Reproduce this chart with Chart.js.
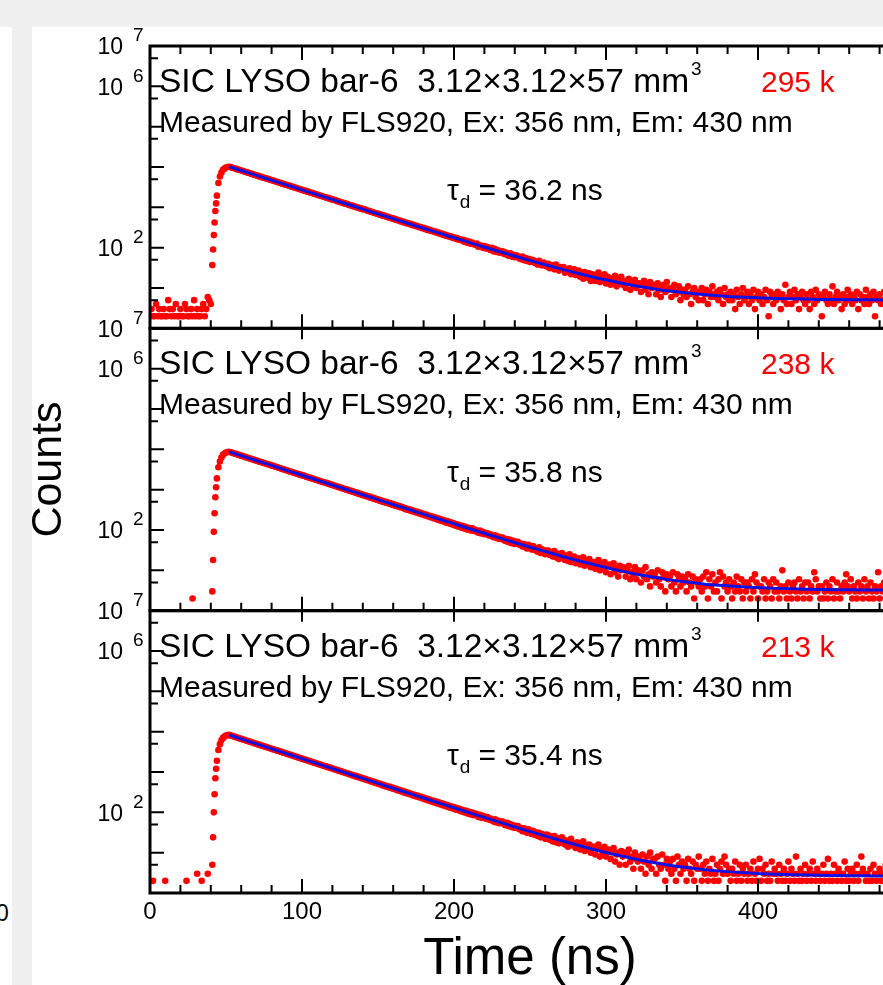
<!DOCTYPE html>
<html>
<head>
<meta charset="utf-8">
<title>SIC LYSO bar-6 decay time</title>
<script src="https://cdn.jsdelivr.net/npm/chart.js@4.4.1/dist/chart.umd.min.js"></script>
<style>
  html, body { margin: 0; padding: 0; overflow: hidden; background: #fff; }
  body { width: 883px; height: 985px; position: relative; }
  .band-top { position: absolute; left: 0; top: 0; width: 883px; height: 27px; background: #f0f0f0; }
  .band-left { position: absolute; left: 12px; top: 27px; width: 20px; height: 958px; background: #f0f0f0; }
  .stray { position: absolute; left: -4px; top: 902px; font: 23px 'Liberation Sans', Arial, sans-serif; line-height: 22px; color: #000; }
  #wrap { position: absolute; left: 0; top: 0; width: 940px; height: 985px; }
</style>
</head>
<body>
<div class="band-top"></div>
<div class="band-left"></div>
<div class="stray">0</div>
<div id="wrap"><canvas id="decay" width="940" height="985"></canvas></div>
<script>
// histogram channel width (ns), counts start at t = 0
const binNs = 1;
const xTickStep = 100;
const yLabelExponents = [7, 6, 2];

const sampleLabel = "SIC LYSO bar-6  3.12\u00d73.12\u00d757 mm";
const setupLabel = "Measured by FLS920, Ex: 356 nm, Em: 430 nm";
const totalLabels = ["295 k", "238 k", "213 k"];
const decayTimes = ["36.2", "35.8", "35.4"];

// panel 1 counts, t = 0 .. 485 ns
const counts1 = [
  2, 3, 2, 2, 4, 2, 3, 2, 2, 3,
  2, 2, 5, 3, 2, 3, 2, 4, 2, 2,
  3, 2, 2, 4, 3, 2, 2, 3, 2, 5,
  2, 3, 2, 2, 3, 4, 2, 3, 6, 5,
  4, 37, 205, 810, 1950, 4000, 5800, 7250, 8500, 9100,
  9650, 10000,
  10180, 9950, 9620, 9410, 9170, 8850, 8660, 8390, 8210, 7930,
  7760, 7500, 7350, 7100, 6950, 6720, 6580, 6350, 6230, 6010,
  5850, 5740, 5530, 5430, 5240, 5140, 4950, 4870, 4690, 4600,
  4480, 4310, 4240, 4080, 4010, 3860, 3800, 3650, 3590, 3460,
  3400, 3270, 3220, 3090, 3050, 2930, 2890, 2770, 2730, 2620,
  2590, 2480, 2450, 2340, 2320, 2220, 2190, 2100, 2080, 1990,
  1940, 1915, 1830, 1810, 1730, 1715, 1640, 1625, 1550, 1535,
  1495, 1425, 1415, 1350, 1340, 1275, 1270, 1205, 1200, 1145,
  1110, 1105, 1050, 1050, 995, 990, 940, 940, 890, 890,
  870, 820, 820, 775, 780, 735, 735, 695, 700, 655,
  660, 622, 625, 590, 592, 556, 560, 528, 532, 498,
  502, 472, 476, 447, 451, 422, 427, 400, 405, 379,
  383, 358, 363, 340, 345, 320, 325, 303, 309, 288,
  293, 272, 278, 258, 263, 244, 250, 231, 236, 219,
  225, 207, 212, 196, 201, 186, 191, 175, 181, 166,
  174, 158, 161, 151, 157, 139, 148, 131, 141, 125,
  134, 121, 119, 127, 106, 115, 112, 99, 109, 96,
  104, 93, 88, 99, 81, 92, 78, 86, 75, 80,
  81, 70, 76, 66, 63, 72, 60, 67, 58, 65,
  61, 54, 52, 60, 49, 55, 47, 53, 44, 50,
  49, 42, 45, 38, 47, 40, 36, 43, 39, 34,
  40, 31, 37, 32, 29, 38, 34, 27, 33, 30,
  33, 24, 29, 26, 31, 22, 27, 29, 21, 26,
  27, 19, 24, 17, 25, 21, 18, 23, 15, 22,
  21, 15, 20, 24, 14, 18, 16, 22, 13, 19,
  18, 12, 17, 14, 20, 11, 16, 13, 19, 12,
  15, 10, 14, 17, 9, 13, 11, 16, 10, 12,
  13, 8, 12, 15, 9, 11, 7, 14, 10, 12,
  11, 7, 13, 9, 6, 10, 12, 8, 14, 9,
  10, 6, 9, 12, 7, 8, 11, 5, 9, 7,
  9, 6, 11, 7, 4, 8, 10, 6, 8, 5,
  8, 10, 5, 7, 9, 4, 8, 6, 11, 7,
  6, 8, 5, 9, 7, 4, 10, 6, 7, 5,
  8, 5, 7, 3, 9, 6, 4, 7, 10, 5,
  6, 8, 4, 7, 5, 9, 3, 6, 8, 5,
  7, 4, 6, 9, 5, 2, 8, 6, 4, 7,
  5, 8, 6, 3, 7, 5, 12, 4, 6, 8,
  4, 6, 9, 5, 7, 3, 6, 8, 5, 4,
  7, 5, 3, 8, 6, 4, 9, 5, 7, 6,
  2, 6, 8, 5, 4, 7, 5, 11, 4, 6,
  8, 5, 6, 3, 7, 4, 6, 9, 5, 7,
  4, 6, 5, 8, 3, 7, 5, 6, 4, 9,
  6, 4, 7, 5, 8, 2, 6, 5, 7, 4,
  5, 8, 4, 6
];

// panel 2 counts, t = 0 .. 485 ns (null = below the axis)
const counts2 = [
  null, null, null, null, null, null, null, null, null, null,
  null, null, null, null, null, null, null, null, null, null,
  null, null, null, null, null, null, null, null, 2, null,
  null, null, null, null, null, null, null, null, null, null,
  null, 3, 90, 650, 1900, 3600, 5000, 6300, 7300, 7900,
  8300, 8550,
  8690, 8480, 8200, 8020, 7760, 7590, 7340, 7170, 6940, 6780,
  6600, 6380, 6240, 6030, 5900, 5700, 5580, 5390, 5280, 5100,
  4960, 4860, 4690, 4590, 4430, 4340, 4190, 4110, 3960, 3880,
  3780, 3640, 3575, 3445, 3380, 3255, 3200, 3080, 3025, 2910,
  2830, 2785, 2675, 2635, 2530, 2490, 2390, 2360, 2260, 2230,
  2170, 2075, 2055, 1960, 1945, 1855, 1840, 1750, 1740, 1655,
  1645, 1565, 1555, 1480, 1475, 1400, 1395, 1320, 1320, 1250,
  1245, 1180, 1180, 1115, 1115, 1055, 1058, 995, 1000, 940,
  945, 890, 895, 840, 848, 795, 802, 750, 760, 708,
  718, 670, 680, 633, 645, 598, 610, 565, 577, 534,
  546, 505, 517, 477, 490, 451, 463, 426, 438, 403,
  415, 381, 392, 360, 372, 339, 352, 320, 333, 303,
  315, 288, 297, 271, 283, 256, 267, 242, 253, 229,
  239, 216, 226, 204, 214, 192, 203, 181, 192, 171,
  182, 162, 172, 152, 164, 144, 155, 136, 146, 128,
  139, 121, 131, 114, 125, 108, 119, 102, 112, 97,
  110, 95, 101, 91, 86, 97, 82, 90, 79, 84,
  83, 73, 78, 70, 66, 74, 63, 69, 60, 65,
  65, 56, 53, 60, 50, 57, 47, 54, 45, 51,
  51, 43, 46, 39, 45, 38, 35, 43, 40, 33,
  40, 32, 35, 29, 37, 27, 33, 30, 25, 31,
  31, 24, 28, 22, 30, 21, 26, 19, 25, 27,
  24, 18, 23, 17, 25, 16, 20, 22, 15, 19,
  20, 14, 18, 21, 13, 17, 15, 19, 12, 16,
  16, 11, 15, 18, 10, 14, 12, 16, 9, 13,
  14, 8, 12, 15, 9, 11, 7, 13, 10, 12,
  11, 7, 10, 13, 6, 9, 8, 12, 6, 10,
  9, 5, 10, 7, 12, 6, 8, 4, 9, 7,
  8, 5, 10, 6, 4, 9, 7, 3, 8, 6,
  7, 4, 9, 5, 3, 8, 6, 4, 7, 5,
  6, 3, 8, 5, 4, 7, 2, 6, 5, 4,
  6, 3, 7, 4, 9, 2, 6, 4, 8, 3,
  5, 3, 6, 9, 2, 7, 4, 5, 3, 6,
  4, 2, 5, 3, 7, 4, 3, 6, 2, 5,
  3, 5, 4, 2, 6, 3, 8, 5, 2, 4,
  4, 3, 6, 2, 3, 5, 4, 2, 6, 3,
  5, 3, 2, 4, 10, 3, 4, 2, 5, 3,
  2, 4, 5, 3, 2, 6, 3, 4, 2, 5,
  3, 5, 2, 4, 3, 9, 6, 3, 4, 2,
  4, 2, 3, 5, 2, 4, 3, 6, 2, 3,
  5, 3, 2, 4, 3, 5, 8, 4, 3, 6,
  2, 4, 3, 2, 5, 3, 4, 2, 6, 3,
  4, 2, 5, 3, 2, 4, 3, 9, 2, 4,
  3, 5, 2, 4
];

// panel 3 counts, t = 0 .. 485 ns (null = below the axis)
const counts3 = [
  null, null, 2, null, null, null, null, null, null, null,
  2, null, null, null, null, null, null, null, null, null,
  null, null, null, null, 2, null, null, null, null, null,
  null, 3, null, null, 2, null, null, null, 3, null,
  null, 5, 100, 700, 1900, 3500, 4900, 6100, 7000, 7600,
  8000, 8200,
  8310, 8050, 7870, 7600, 7430, 7190, 7020, 6790, 6640, 6420,
  6280, 6060, 5930, 5730, 5610, 5410, 5300, 5110, 5010, 4830,
  4700, 4605, 4440, 4350, 4195, 4115, 3965, 3890, 3745, 3675,
  3575, 3440, 3380, 3250, 3195, 3070, 3020, 2900, 2855, 2740,
  2700, 2590, 2550, 2445, 2410, 2310, 2280, 2180, 2155, 2060,
  2040, 1950, 1925, 1840, 1822, 1738, 1722, 1642, 1628, 1551,
  1540, 1465, 1455, 1385, 1378, 1307, 1301, 1235, 1230, 1167,
  1164, 1100, 1102, 1040, 1042, 982, 985, 928, 932, 877,
  881, 827, 833, 781, 788, 738, 745, 697, 705, 659,
  667, 622, 631, 587, 597, 554, 564, 523, 534, 494,
  505, 466, 477, 440, 451, 416, 427, 393, 403, 371,
  383, 350, 362, 331, 342, 312, 324, 294, 306, 279,
  290, 263, 274, 248, 260, 235, 245, 222, 232, 209,
  220, 197, 208, 186, 197, 175, 187, 165, 177, 156,
  167, 148, 158, 139, 150, 131, 142, 124, 135, 117,
  128, 112, 120, 105, 114, 99, 109, 93, 103, 88,
  99, 85, 93, 89, 77, 87, 73, 82, 79, 69,
  76, 66, 70, 63, 59, 67, 56, 62, 54, 59,
  59, 50, 48, 55, 45, 51, 43, 48, 41, 46,
  46, 38, 41, 34, 40, 33, 31, 38, 35, 29,
  35, 28, 32, 26, 31, 24, 29, 27, 22, 28,
  27, 21, 25, 19, 26, 18, 23, 17, 22, 24,
  21, 16, 20, 14, 19, 22, 15, 17, 13, 18,
  17, 12, 16, 19, 11, 15, 13, 16, 10, 14,
  14, 9, 13, 16, 8, 12, 10, 14, 8, 11,
  12, 7, 11, 13, 6, 9, 10, 5, 11, 8,
  10, 5, 9, 12, 6, 8, 4, 10, 7, 6,
  8, 4, 9, 6, 3, 8, 5, 10, 4, 7,
  7, 3, 8, 5, 4, 9, 5, 2, 7, 4,
  6, 3, 7, 4, 2, 8, 5, 3, 6, 4,
  5, 2, 7, 4, 3, 6, 2, 5, 4, 8,
  4, 2, 5, 3, 6, 2, 4, 3, 7, 2,
  3, 5, 2, 4, 6, 3, 8, 5, 3, 4,
  2, 4, 3, 6, 2, 3, 5, 2, 4, 3,
  5, 2, 3, 4, 2, 6, 3, 2, 4, 7,
  2, 4, 3, 5, 2, 3, 2, 6, 3, 4,
  3, 2, 5, 3, 2, 4, 2, 3, 6, 2,
  4, 3, 2, 8, 3, 2, 4, 2, 3, 5,
  2, 3, 4, 2, 6, 3, 2, 4, 3, 2,
  3, 5, 2, 3, 7, 2, 3, 2, 5, 3,
  2, 4, 3, 2, 3, 6, 2, 4, 2, 3,
  4, 2, 3, 5, 2, 3, 8, 4, 3, 2,
  3, 2, 4, 2, 5, 3, 2, 3, 4, 2,
  3, 2, 5, 2
];

// extra channels on the rising edge (between whole ns)
const edgeTimes = [41.5, 42.5, 43.5];
const edgeCounts1 = [90, 420, 1250];
const edgeCounts2 = [18, 260, 1150];
const edgeCounts3 = [24, 280, 1200];

// fitted decay curves
const fitTimes = [52, 62, 72, 82, 92, 102, 112, 122, 132, 142, 152, 162, 172, 182, 192, 202,
  212, 222, 232, 242, 252, 262, 272, 282, 292, 302, 312, 322, 332, 342, 352, 362, 372, 382,
  392, 402, 412, 422, 432, 442, 452, 462, 472, 482, 492, 500];
const fit1 = [10205, 7744, 5876, 4460, 3385, 2569, 1951, 1481, 1125, 855, 650, 494, 376, 287,
  219, 167, 128, 98.4, 75.9, 58.8, 45.8, 36.0, 28.5, 22.8, 18.5, 15.3, 12.8, 10.9, 9.5, 8.4,
  7.6, 7.0, 6.5, 6.1, 5.9, 5.65, 5.5, 5.4, 5.3, 5.2, 5.16, 5.12, 5.09, 5.07, 5.05, 5.04];
const fit2 = [8703, 6583, 4979, 3766, 2849, 2156, 1631, 1234, 934, 707, 536, 406, 308, 233,
  177, 135, 102.9, 78.6, 60.2, 46.3, 35.8, 27.9, 21.8, 17.3, 13.9, 11.3, 9.3, 7.8, 6.7, 5.8,
  5.2, 4.7, 4.3, 4.1, 3.85, 3.7, 3.57, 3.48, 3.41, 3.36, 3.32, 3.29, 3.27, 3.25, 3.24, 3.23];
const fit3 = [8303, 6260, 4720, 3559, 2684, 2024, 1527, 1152, 869, 656, 495, 374, 283, 214,
  162, 123, 93.0, 70.8, 54.0, 41.3, 31.8, 24.6, 19.2, 15.1, 12.0, 9.7, 8.0, 6.6, 5.65, 4.9,
  4.33, 3.9, 3.58, 3.34, 3.16, 3.02, 2.92, 2.84, 2.78, 2.74, 2.70, 2.68, 2.66, 2.65, 2.64, 2.63];

const FONT = "'Liberation Sans', Arial, Helvetica, sans-serif";
const panelIds = ["y1", "y2", "y3"];
const panelCounts = [counts1, counts2, counts3];
const panelEdges = [edgeCounts1, edgeCounts2, edgeCounts3];
const panelFits = [fit1, fit2, fit3];

function histPoints(counts, edgeCounts) {
  const pts = counts.map((c, i) => ({ x: i * binNs, y: c }));
  edgeTimes.forEach((t, i) => pts.push({ x: t, y: edgeCounts[i] }));
  return pts;
}

function fitPoints(vals) {
  return fitTimes.map((t, i) => ({ x: t, y: vals[i] }));
}

const datasets = [];
panelIds.forEach((id, p) => {
  datasets.push({
    type: "line",
    label: "fit " + (p + 1),
    data: fitPoints(panelFits[p]),
    yAxisID: id,
    borderColor: "#1010e0",
    borderWidth: 3,
    pointRadius: 0,
    fill: false,
    cubicInterpolationMode: "monotone",
    order: 0
  });
  datasets.push({
    type: "scatter",
    label: "data " + (p + 1),
    data: histPoints(panelCounts[p], panelEdges[p]),
    yAxisID: id,
    backgroundColor: "#ff0000",
    borderWidth: 0,
    pointRadius: 3.3,
    order: 1
  });
});

function panelScale(weight, title) {
  return {
    type: "logarithmic",
    position: "left",
    stack: "panels",
    stackWeight: 1,
    weight: weight,
    min: 1,
    max: 1e7,
    ticks: { display: false },
    grid: { display: false, drawTicks: false },
    border: { display: false },
    title: title ? {
      display: true,
      text: title,
      color: "#000",
      font: { family: FONT, size: 43, lineHeight: 1 },
      padding: { top: 28, bottom: 0 }
    } : { display: false },
    afterFit(scale) { scale.width = 150; }
  };
}

// frame, inward ticks, 10^n labels and the panel notes
const panelDecor = {
  id: "panelDecor",
  afterDatasetsDraw(chart) {
    const { ctx } = chart;
    const xs = chart.scales.x;
    const left = xs.left, right = xs.right;
    ctx.save();
    ctx.strokeStyle = "#000";
    ctx.fillStyle = "#000";
    panelIds.forEach((id, p) => {
      const ys = chart.scales[id];
      const top = ys.top, bottom = ys.bottom;

      ctx.lineWidth = 2;
      ctx.beginPath();
      for (let e = 0; e <= 7; e++) {
        [1, 5].forEach((m) => {
          const v = m * Math.pow(10, e);
          if (v > ys.max) return;
          const y = ys.getPixelForValue(v);
          const len = m === 1 ? 14 : 8;
          ctx.moveTo(left, y); ctx.lineTo(left + len, y);
          ctx.moveTo(right, y); ctx.lineTo(right - len, y);
        });
      }
      for (let t = xs.min; t <= xs.max; t += 20) {
        const x = xs.getPixelForValue(t);
        const major = t % xTickStep === 0;
        ctx.moveTo(x, bottom); ctx.lineTo(x, bottom - (major ? 14 : 8));
        if (p === 0) {
          ctx.moveTo(x, top); ctx.lineTo(x, top + (major ? 14 : 8));
        } else if (major) {
          ctx.moveTo(x, top); ctx.lineTo(x, top + 11);
        }
      }
      ctx.stroke();

      ctx.lineWidth = 3;
      ctx.strokeRect(left, top, right - left, bottom - top);

      // y labels as 10 + raised exponent
      yLabelExponents.forEach((e) => {
        const y = ys.getPixelForValue(Math.pow(10, e)) + 2;
        ctx.textBaseline = "middle";
        ctx.font = "23px " + FONT;
        ctx.textAlign = "right";
        ctx.fillText("10", left - 27, y);
        ctx.font = "19px " + FONT;
        ctx.textAlign = "left";
        ctx.fillText(String(e), left - 17, y - 12);
      });

      ctx.textAlign = "left";
      ctx.textBaseline = "alphabetic";
      ctx.font = "33.5px " + FONT;
      ctx.fillText(sampleLabel, left + 9, top + 46);
      const w = ctx.measureText(sampleLabel).width;
      ctx.font = "19px " + FONT;
      ctx.fillText("3", left + 9 + w + 2, top + 29);

      ctx.fillStyle = "#ff0000";
      ctx.font = "30px " + FONT;
      ctx.fillText(totalLabels[p], left + 611, top + 46);
      ctx.fillStyle = "#000";

      ctx.font = "30px " + FONT;
      ctx.fillText(setupLabel, left + 9, top + 86);

      const tx = left + 297, ty = top + 154;
      ctx.font = "30px " + FONT;
      ctx.fillText("\u03c4", tx, ty);
      let cx = tx + ctx.measureText("\u03c4").width + 1;
      ctx.font = "19px " + FONT;
      ctx.fillText("d", cx, ty + 8);
      cx += ctx.measureText("d").width + 8;
      ctx.font = "30px " + FONT;
      ctx.fillText("= " + decayTimes[p] + " ns", cx, ty);
    });
    ctx.restore();
  }
};

Chart.defaults.font.family = FONT;
Chart.defaults.color = "#000";

new Chart(document.getElementById("decay"), {
  type: "scatter",
  data: { datasets },
  options: {
    responsive: false,
    animation: false,
    devicePixelRatio: 1,
    events: [],
    layout: { padding: { left: 0, top: 46, right: 30, bottom: 0 } },
    plugins: {
      legend: { display: false },
      tooltip: { enabled: false }
    },
    scales: {
      x: {
        type: "linear",
        position: "bottom",
        min: 0,
        max: 500,
        ticks: { stepSize: xTickStep, color: "#000", font: { size: 24 }, padding: 5, maxRotation: 0, autoSkip: false },
        grid: { display: false, drawTicks: false },
        border: { display: false },
        title: {
          display: true,
          text: "Time (ns)",
          color: "#000",
          font: { size: 51, lineHeight: 1 },
          padding: 0
        },
        afterFit(scale) { scale.height = 92; }
      },
      y1: panelScale(3, null),
      y2: panelScale(2, "Counts"),
      y3: panelScale(1, null)
    }
  },
  plugins: [panelDecor]
});
</script>
</body>
</html>
